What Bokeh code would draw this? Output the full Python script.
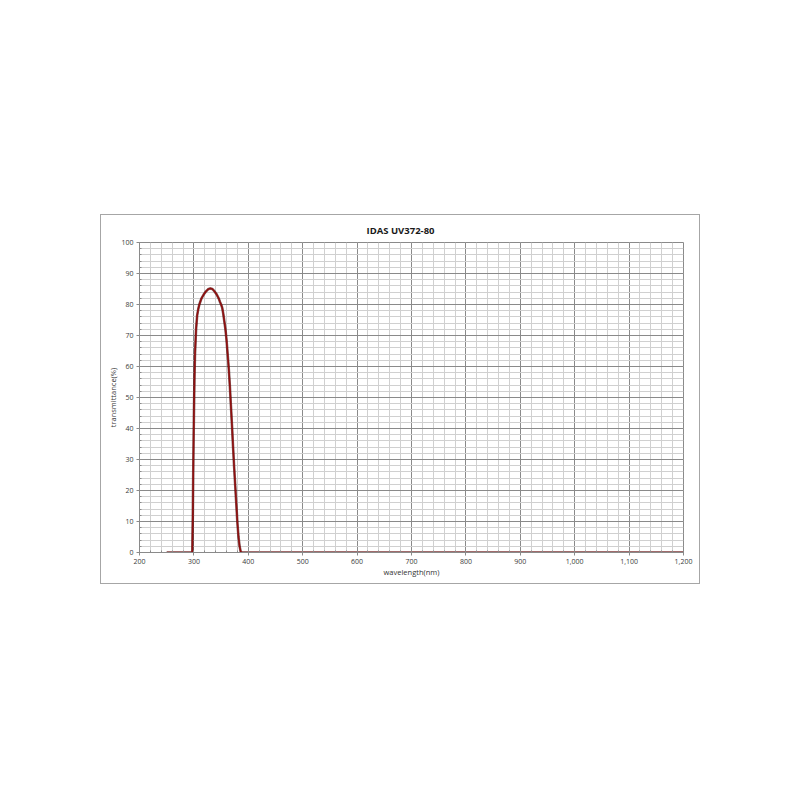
from bokeh.plotting import figure
from bokeh.embed import file_html
from bokeh.resources import INLINE
from bokeh.models import NumeralTickFormatter, FixedTicker

# Data: wavelength (nm) and transmittance (%)
wavelength = [250, 260, 270, 280, 290, 295, 297, 298, 299, 300, 301, 302, 304, 306, 308,
              310, 314, 318, 322, 326, 330, 334, 338, 342, 346, 348, 350, 352, 354, 356,
              358, 360, 362, 364, 366, 368, 370, 372, 374, 376, 378, 380, 382, 384, 386,
              388, 400, 500, 600, 700, 800, 900, 1000, 1100, 1200]
transmittance = [0, 0, 0, 0, 0, 0, 0.3, 12, 30, 44, 56, 64, 72, 76.5, 78.5,
                 80, 82, 83.2, 84.2, 84.9, 85.2, 85, 84.2, 83.2, 81.8, 80.8, 80, 79, 77, 74.5,
                 72, 68.5, 64, 59.5, 54, 47.5, 41, 34, 27.5, 21.5, 15.5, 9.5, 5, 2, 0.3,
                 0, 0, 0, 0, 0, 0, 0, 0, 0, 0]

x_ticks = [200, 300, 400, 500, 600, 700, 800, 900, 1000, 1100, 1200]
y_ticks = [0, 10, 20, 30, 40, 50, 60, 70, 80, 90, 100]
x_minor = list(range(200, 1201, 20))
y_minor = list(range(0, 101, 2))

title_text = "IDAS  UV372-80"
x_label = "wavelength(nm)"
y_label = "transmittance(%)"

p = figure(width=600, height=370, x_range=(200, 1200), y_range=(0, 100),
           output_backend="svg", toolbar_location=None,
           min_border_left=38, min_border_right=18, min_border_top=26, min_border_bottom=33,
           margin=(214, 0, 0, 100),
           styles={"border": "1px solid #a6a6a6"})

p.title.text = title_text
p.title.align = "left"
p.title.offset = 227
p.title.text_font = "Open Sans"
p.title.text_font_size = "9.5px"
p.title.text_font_style = "bold"
p.title.text_color = "#1a1a1a"
p.title.standoff = 12

p.background_fill_color = "white"
p.border_fill_color = "white"
p.outline_line_color = "#8a8a8a"
p.outline_line_width = 1

p.xaxis.ticker = FixedTicker(ticks=x_ticks, minor_ticks=x_minor)
p.yaxis.ticker = FixedTicker(ticks=y_ticks, minor_ticks=y_minor)
p.xaxis.formatter = NumeralTickFormatter(format="0,0")

for ax in (p.xaxis[0], p.yaxis[0]):
    ax.axis_line_color = "#8a8a8a"
    ax.major_tick_line_color = "#8a8a8a"
    ax.minor_tick_line_color = "#8a8a8a"
    ax.major_tick_out = 3
    ax.major_tick_in = 0
    ax.minor_tick_out = 0
    ax.minor_tick_in = 2
    ax.major_label_text_font = "Open Sans"
    ax.major_label_text_font_size = "7px"
    ax.major_label_text_color = "#3a3a3a"
    ax.major_label_standoff = 3
    ax.axis_label_text_font = "Open Sans"
    ax.axis_label_text_font_size = "7.5px"
    ax.axis_label_text_font_style = "normal"
    ax.axis_label_text_color = "#333333"
    ax.axis_label_standoff = 0

p.xaxis.axis_label = x_label
p.yaxis.axis_label = y_label

p.xgrid.grid_line_color = "#8a8a8a"
p.ygrid.grid_line_color = "#8a8a8a"
p.xgrid.grid_line_width = 1
p.ygrid.grid_line_width = 1
p.xgrid.minor_grid_line_color = "#d0d0d0"
p.ygrid.minor_grid_line_color = "#d0d0d0"

p.line(wavelength, transmittance, line_color="#3a0000", line_width=2.6, line_alpha=0.6)
p.line(wavelength, transmittance, line_color="#8f0f0f", line_width=1.6)

open("out.html", "w").write(file_html(p, INLINE))
